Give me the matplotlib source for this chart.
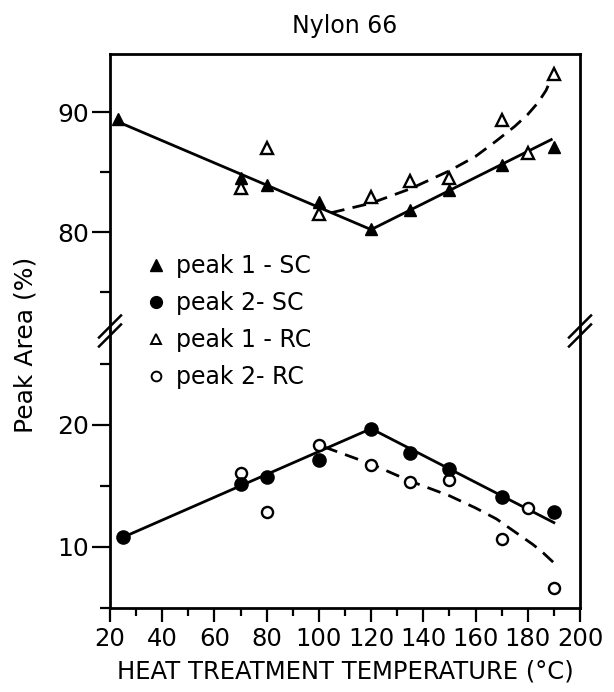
import matplotlib
matplotlib.use("Agg")
import matplotlib.pyplot as plt
from matplotlib.lines import Line2D

# measured points (heat treatment temperature in C, peak area in %)
t_p1_sc = [23, 70, 80, 100, 120, 135, 150, 170, 190]
p1_sc = [89.4, 84.5, 83.9, 82.5, 80.25, 81.8, 83.5, 85.6, 87.1]
t_p1_rc = [70, 80, 100, 120, 135, 150, 170, 180, 190]
p1_rc = [83.7, 87.0, 81.5, 82.9, 84.25, 84.5, 89.3, 86.6, 93.2]
t_p2_sc = [25, 70, 80, 100, 120, 135, 150, 170, 190]
p2_sc = [10.8, 15.2, 15.7, 17.1, 19.7, 17.7, 16.4, 14.1, 12.9]
t_p2_rc = [70, 80, 100, 120, 135, 150, 170, 180, 190]
p2_rc = [16.1, 12.9, 18.4, 16.7, 15.3, 15.5, 10.65, 13.2, 6.6]

# guide lines drawn through the data
fit1_sc_t = [25, 120, 189]
fit1_sc = [89.0, 80.2, 87.7]
fit1_rc_t = [104.6, 120, 135, 150, 160, 168, 175, 180, 184, 187, 189]
fit1_rc = [81.6, 82.4, 83.6, 85.1, 86.3, 87.6, 88.8, 89.8, 90.8, 91.8, 92.8]
fit2_sc_t = [25, 120, 190]
fit2_sc = [10.8, 19.7, 12.0]
fit2_rc_t = [102, 120, 135, 150, 160, 168, 176, 182, 186, 190]
fit2_rc = [18.2, 16.8, 15.4, 14.2, 13.2, 12.3, 11.1, 10.2, 9.5, 8.7]

labels = ["peak 1 - SC", "peak 2- SC", "peak 1 - RC", "peak 2- RC"]

W, H = 614, 692
fig = plt.figure(figsize=(W / 100, H / 100), dpi=100)
left, right = 110, 580
top, mid, bottom = 54, 331, 608
ax1 = fig.add_axes([left / W, 1 - mid / H, (right - left) / W, (mid - top) / H])
ax2 = fig.add_axes([left / W, 1 - bottom / H, (right - left) / W, (bottom - mid) / H])

lw = 2.0
dash = (0, (5, 3))
ax1.plot(fit1_sc_t, fit1_sc, color="black", lw=lw, zorder=2)
ax1.plot(fit1_rc_t, fit1_rc, color="black", lw=lw, ls=dash, zorder=2)
ax2.plot(fit2_sc_t, fit2_sc, color="black", lw=lw, zorder=2)
ax2.plot(fit2_rc_t, fit2_rc, color="black", lw=lw, ls=dash, zorder=2)

ax1.plot(t_p1_rc, p1_rc, ls="none", marker="^", ms=8, mfc="white", mec="black", mew=1.7, zorder=3)
ax1.plot(t_p1_sc, p1_sc, ls="none", marker="^", ms=9, color="black", zorder=4)
ax2.plot(t_p2_rc, p2_rc, ls="none", marker="o", ms=8, mfc="white", mec="black", mew=1.7, zorder=3)
ax2.plot(t_p2_sc, p2_sc, ls="none", marker="o", ms=9.5, color="black", zorder=4)

ax1.set_ylim(80 - 99 / 12, 90 + 58 / 12)
ax2.set_ylim(5, 20 + 94 / 12.2)
for ax in (ax1, ax2):
    ax.set_xlim(20, 200)
    for s in ax.spines.values():
        s.set_linewidth(2.0)
    ax.tick_params(axis="y", which="major", length=13, width=1.6, labelsize=18, pad=2)
    ax.tick_params(axis="y", which="minor", length=7, width=1.6)
    ax.tick_params(axis="x", which="major", length=10, width=1.6, labelsize=17.5, pad=4)
    ax.tick_params(axis="x", which="minor", length=6, width=1.6)

ax1.spines["bottom"].set_visible(False)
ax2.spines["top"].set_visible(False)
ax1.tick_params(axis="x", which="both", bottom=False, labelbottom=False)

ax1.set_yticks([80, 90])
ax1.set_yticks([75, 85], minor=True)
ax2.set_yticks([10, 20])
ax2.set_yticks([5, 15, 25], minor=True)
ax2.set_xticks(range(20, 201, 20))
ax2.set_xticks(range(30, 200, 20), minor=True)

ax2.set_xlabel("HEAT TREATMENT TEMPERATURE (°C)", fontsize=17.5, labelpad=6)
fig.text(26 / W, 1 - 345 / H, "Peak Area (%)", rotation=90, fontsize=18,
         ha="center", va="center")
fig.text(345 / W, 1 - 26 / H, "Nylon 66", fontsize=17, ha="center", va="center")

# break marks on both spines
for x0 in (left, right):
    for yc in (mid - 4.5, mid + 4.5):
        fig.add_artist(Line2D([(x0 - 11) / W, (x0 + 11) / W],
                              [1 - (yc + 11) / H, 1 - (yc - 11) / H],
                              color="black", lw=1.8, transform=fig.transFigure))

handles = [
    Line2D([], [], ls="none", marker="^", ms=8, color="black"),
    Line2D([], [], ls="none", marker="o", ms=8.5, color="black"),
    Line2D([], [], ls="none", marker="^", ms=7, mfc="white", mec="black", mew=1.4),
    Line2D([], [], ls="none", marker="o", ms=7, mfc="white", mec="black", mew=1.4),
]
fig.legend(handles, labels, loc="upper left", bbox_to_anchor=(144 / W, 1 - 254 / H),
           bbox_transform=fig.transFigure, frameon=False, fontsize=17,
           handlelength=1.0, handletextpad=0.35, labelspacing=0.55,
           borderpad=0, borderaxespad=0)

fig.savefig("out.png", dpi=100)
